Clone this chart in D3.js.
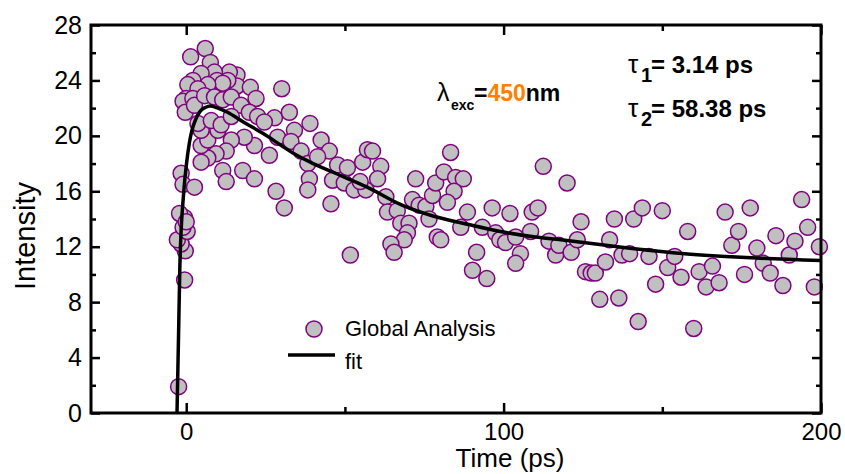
<!DOCTYPE html>
<html>
<head>
<meta charset="utf-8">
<script src="https://cdn.jsdelivr.net/npm/d3@7"></script>
<style>
  body { margin: 0; background: #fff; }
  text { font-family: "Liberation Sans", Arial, sans-serif; }
</style>
</head>
<body>
<div id="chart"></div>
<script>
// measured points (time in ps, intensity)
var timePs = [
  -2.4, -0.5, -0.3, -1.6, -2.8, 0.3, -1.0, -0.5, -2.1, 30.9,
  6.0, 1.4, 7.6, 30.1, 16.0, 13.6, 8.9, 4.7, 2.1, 0.5,
  9.7, 16.0, 20.2, 13.1, 11.5, 6.8, 3.7, 0.0, -1.0, -0.3,
  2.1, 2.6, 5.8, 8.9, 11.5, 14.2, 17.3, 22.0, 19.9, 22.5,
  27.8, 32.5, 24.6, 34.1, 39.0, 28.8, 33.0, 26.2, 36.2, 21.5,
  18.3, 14.2, 12.6, 9.4, 6.8, 4.7, 4.7, 6.8, 10.0, 4.7,
  3.7, 7.9, 11.0, 14.2, 11.5, 12.6, 17.8, 21.5, 28.3, -1.6,
  -1.0, 2.6, 0.0, 38.3,
  42.5, 45.1, 41.4, 38.8, 38.3, 45.6, 47.7, 50.8, 46.1, 49.8,
  52.9, 55.6, 57.1, 58.7, 61.3, 60.3, 56.6, 54.8, 62.9, 63.4,
  66.5, 67.6, 70.2, 69.7, 68.7, 64.5, 65.5, 51.7, 72.3, 71.3,
  73.4, 75.5, 76.5, 77.6, 78.6, 81.2, 83.3, 84.9, 87.3, 84.4,
  82.3, 79.1, 80.2, 86.5, 88.6, 91.5, 90.2, 94.7, 93.3, 96.4,
  97.5, 98.8, 100.6, 102.0, 103.8, 105.3, 103.8, 108.5, 109.0, 110.8,
  112.5, 114.3, 116.4, 117.4,
  120.0, 121.3, 123.2, 124.4, 125.8, 127.6, 128.9, 132.1, 130.3, 133.4,
  134.9, 136.3, 137.3, 139.7, 141.0, 143.7, 142.4, 145.8, 147.9, 150.0,
  151.7, 153.9, 155.9, 158.0, 159.9, 161.6, 163.8, 165.8, 167.9, 169.8,
  171.9, 174.0, 175.9, 177.7, 179.8, 181.8, 184.0, 185.8, 188.0, 190.0,
  191.8, 193.9, 195.8, 197.9, 199.5
];
var intensity = [
  1.9, 9.6, 11.7, 12.2, 12.5, 13.1, 13.4, 14.1, 14.4, 14.8,
  26.3, 25.7, 25.3, 23.4, 24.4, 24.6, 24.6, 24.5, 24.0, 23.7,
  24.0, 23.6, 23.5, 24.0, 23.8, 23.7, 23.4, 22.7, 22.5, 21.7,
  22.7, 22.2, 22.9, 22.8, 22.6, 22.8, 22.2, 22.7, 21.7, 21.4,
  21.3, 21.7, 21.0, 20.4, 20.9, 19.9, 19.6, 18.6, 18.9, 19.3,
  19.9, 19.7, 18.9, 18.7, 18.4, 18.1, 19.3, 19.7, 20.4, 20.4,
  20.9, 21.1, 20.8, 21.4, 17.5, 16.7, 17.5, 16.9, 16.0, 17.3,
  16.5, 16.3, 13.8, 18.0,
  19.7, 18.9, 18.5, 16.9, 16.1, 15.1, 17.9, 17.7, 16.8, 16.6,
  16.1, 18.1, 19.0, 18.9, 17.8, 16.9, 16.1, 16.7, 15.6, 14.5,
  14.6, 13.7, 13.7, 13.0, 12.5, 12.2, 11.6, 11.4, 16.9, 15.4,
  15.0, 14.9, 14.0, 15.7, 16.6, 17.4, 18.8, 17.0, 16.9, 16.0,
  15.2, 12.7, 12.5, 13.4, 14.5, 11.6, 10.3, 9.7, 13.4, 14.8,
  13.0, 12.5, 12.3, 14.4, 12.7, 11.5, 10.8, 13.1, 14.5, 14.8,
  17.8, 12.4, 11.4, 12.1,
  16.6, 11.6, 12.5, 13.8, 10.2, 10.1, 10.1, 10.9, 8.2, 12.5,
  14.0, 8.3, 11.4, 11.5, 14.0, 14.8, 6.6, 11.3, 9.3, 14.6,
  10.5, 11.3, 9.8, 13.1, 6.1, 10.2, 9.1, 10.6, 9.4, 14.5,
  12.1, 13.1, 10.0, 14.8, 11.9, 10.8, 10.1, 12.8, 9.2, 11.4,
  12.4, 15.4, 13.4, 9.1, 12.0
];

// fit curve
var fitTime = [-2.9, -2.4, -2.0, -1.6, -1.1, -0.7, 0.1, 1.0, 1.8, 3.0, 4.5, 6.0, 7.6, 10, 13, 18, 24, 30, 34, 40, 47, 57, 68, 78, 89, 99, 110, 118, 136, 157, 178, 200];
var fitIntensity = [0, 5.8, 10.6, 13.2, 15.0, 16.2, 18.0, 19.5, 20.4, 21.2, 21.8, 22.05, 22.15, 22.0, 21.7, 21.0, 20.2, 19.3, 18.7, 18.0, 17.3, 16.3, 15.0, 14.2, 13.6, 13.1, 12.7, 12.5, 12.0, 11.5, 11.2, 11.0];

var xMajor = [0, 100, 200];
var xMinor = [50, 150];
var yMajor = [0, 4, 8, 12, 16, 20, 24, 28];
var yMinor = [2, 6, 10, 14, 18, 22, 26];

var W = 845, H = 474;
var margin = {top: 25, right: 24, bottom: 61, left: 91};
var width = W - margin.left - margin.right;
var height = H - margin.top - margin.bottom;

var svg = d3.select('#chart').append('svg')
  .attr('width', W)
  .attr('height', H);

var g = svg.append('g')
  .attr('transform', 'translate(' + margin.left + ',' + margin.top + ')');

var x = d3.scaleLinear().domain([-30, 200]).range([0, width]);
var y = d3.scaleLinear().domain([0, 28]).range([height, 0]);

function styleAxis(sel, hideText) {
  sel.select('.domain').remove();
  sel.selectAll('line').attr('stroke', '#000').attr('stroke-width', 2.5);
  sel.selectAll('text').attr('fill', '#000')
    .style('font-family', '"Liberation Sans", Arial, sans-serif');
  if (hideText) sel.selectAll('text').remove();
}

// bottom
g.append('g').attr('class', 'xlab').attr('transform', 'translate(0,' + height + ')')
  .call(d3.axisBottom(x).tickValues(xMajor).tickSize(-10).tickPadding(10).tickFormat(d3.format('d')))
  .call(styleAxis, false);
g.append('g').attr('transform', 'translate(0,' + height + ')')
  .call(d3.axisBottom(x).tickValues(xMinor).tickSize(-6))
  .call(styleAxis, true);
// top
g.append('g')
  .call(d3.axisTop(x).tickValues(xMajor).tickSize(-10))
  .call(styleAxis, true);
g.append('g')
  .call(d3.axisTop(x).tickValues(xMinor).tickSize(-6))
  .call(styleAxis, true);
// left
g.append('g').attr('class', 'ylab')
  .call(d3.axisLeft(y).tickValues(yMajor).tickSize(-9).tickPadding(9).tickFormat(d3.format('d')))
  .call(styleAxis, false);
g.append('g')
  .call(d3.axisLeft(y).tickValues(yMinor).tickSize(-5))
  .call(styleAxis, true);
// right
g.append('g').attr('transform', 'translate(' + width + ',0)')
  .call(d3.axisRight(y).tickValues(yMajor).tickSize(-9))
  .call(styleAxis, true);
g.append('g').attr('transform', 'translate(' + width + ',0)')
  .call(d3.axisRight(y).tickValues(yMinor).tickSize(-5))
  .call(styleAxis, true);

g.selectAll('.ylab text').style('font-size', '25px');
g.selectAll('.xlab text').style('font-size', '24px');

// scatter
var pts = timePs.map(function(t, i) { return [t, intensity[i]]; });
g.append('g').selectAll('circle')
  .data(pts)
  .enter().append('circle')
    .attr('cx', function(d) { return x(d[0]); })
    .attr('cy', function(d) { return y(d[1]); })
    .attr('r', 8)
    .attr('fill', '#c0c0c0')
    .attr('stroke', '#800080')
    .attr('stroke-width', 1.5);

// fit
var fit = fitTime.map(function(t, i) { return [t, fitIntensity[i]]; });
var line = d3.line()
  .x(function(d) { return x(d[0]); })
  .y(function(d) { return y(d[1]); })
  .curve(d3.curveMonotoneX);
g.append('path')
  .datum(fit)
  .attr('d', line)
  .attr('fill', 'none')
  .attr('stroke', '#000')
  .attr('stroke-width', 3.5);

// frame
g.append('rect')
  .attr('width', width)
  .attr('height', height)
  .attr('fill', 'none')
  .attr('stroke', '#000')
  .attr('stroke-width', 3);

// axis titles
svg.append('text')
  .attr('x', 510).attr('y', 467)
  .attr('text-anchor', 'middle')
  .style('font-size', '26px')
  .text('Time (ps)');
svg.append('text')
  .attr('transform', 'translate(35,236) rotate(-90)')
  .attr('text-anchor', 'middle')
  .style('font-size', '29px')
  .text('Intensity');

// legend
svg.append('circle')
  .attr('cx', 314).attr('cy', 329).attr('r', 8)
  .attr('fill', '#c0c0c0').attr('stroke', '#800080').attr('stroke-width', 1.5);
svg.append('text').attr('x', 345).attr('y', 336).style('font-size', '22px').text('Global Analysis');
svg.append('line')
  .attr('x1', 288).attr('x2', 335).attr('y1', 355).attr('y2', 355)
  .attr('stroke', '#000').attr('stroke-width', 3.5);
svg.append('text').attr('x', 345).attr('y', 369).style('font-size', '22px').text('fit');

// annotations
svg.append('text').attr('x', 437).attr('y', 101).style('font-size', '25px').text('λ');
svg.append('text').attr('x', 451).attr('y', 110).style('font-size', '14px').style('font-weight', 'bold').text('exc');
var lam = svg.append('text').attr('x', 474).attr('y', 101)
  .style('font-size', '23px').style('font-weight', 'bold');
lam.append('tspan').text('=');
lam.append('tspan').attr('fill', '#ff8000').text('450');
lam.append('tspan').text('nm');

var taus = [['1', '= 3.14 ps', 73], ['2', '= 58.38 ps', 117]];
taus.forEach(function(d) {
  svg.append('text').attr('x', 628).attr('y', d[2]).style('font-size', '26px').text('τ');
  svg.append('text').attr('x', 641).attr('y', d[2] + 9).style('font-size', '20px').style('font-weight', 'bold').text(d[0]);
  svg.append('text').attr('x', 651).attr('y', d[2]).style('font-size', '24px').style('font-weight', 'bold').text(d[1]);
});
</script>
</body>
</html>
